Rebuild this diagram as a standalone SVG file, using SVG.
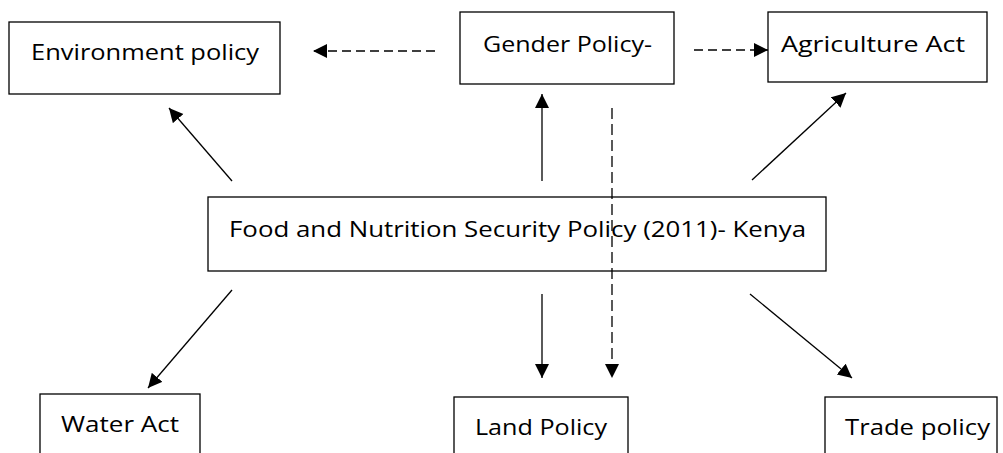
<svg xmlns="http://www.w3.org/2000/svg" width="1003" height="453" viewBox="0 0 1003 453">
<style>
.box{fill:#fff;stroke:#000;stroke-width:1.3}
.t{font-family:"Open Sans","Liberation Sans",Arial,sans-serif;font-size:21px;fill:#000}
.c{stroke:#000;stroke-width:1.3;fill:none}
.d{stroke-dasharray:9,5}
.dv{stroke-dasharray:11,5}
</style>
<defs>
<marker id="ah" markerUnits="userSpaceOnUse" markerWidth="15" markerHeight="15" refX="14" refY="7" orient="auto">
<path d="M0,0 L14,7 L0,14 Z" fill="#000"/>
</marker>
</defs>
<rect width="1003" height="453" fill="#fff"/>
<g id="env"><rect class="box" x="9" y="22" width="271" height="72"/><text class="t" x="31" y="60" textLength="228" lengthAdjust="spacingAndGlyphs">Environment policy</text></g>
<g id="gender"><rect class="box" x="460" y="12" width="214" height="72"/><text class="t" x="483" y="52" textLength="169" lengthAdjust="spacingAndGlyphs">Gender Policy-</text></g>
<g id="agri"><rect class="box" x="768" y="12" width="219" height="70"/><text class="t" x="781" y="52" textLength="184" lengthAdjust="spacingAndGlyphs">Agriculture Act</text></g>
<g id="central"><rect class="box" x="208" y="197" width="618" height="74"/><text class="t" x="229" y="237" textLength="577" lengthAdjust="spacingAndGlyphs">Food and Nutrition Security Policy (2011)- Kenya</text></g>
<g id="water"><rect class="box" x="40" y="394" width="160" height="70"/><text class="t" x="61" y="432" textLength="118" lengthAdjust="spacingAndGlyphs">Water Act</text></g>
<g id="land"><rect class="box" x="454" y="397" width="174" height="70"/><text class="t" x="475" y="435" textLength="132" lengthAdjust="spacingAndGlyphs">Land Policy</text></g>
<g id="trade"><rect class="box" x="825" y="397" width="172" height="70"/><text class="t" x="845" y="435" textLength="145" lengthAdjust="spacingAndGlyphs">Trade policy</text></g>
<g id="connectors">
<line class="c d" x1="435" y1="51" x2="313" y2="51" marker-end="url(#ah)"/>
<line class="c d" x1="694" y1="50" x2="768" y2="50" marker-end="url(#ah)"/>
<line class="c" x1="232" y1="181" x2="169" y2="108" marker-end="url(#ah)"/>
<line class="c" x1="542" y1="181" x2="542" y2="94" marker-end="url(#ah)"/>
<line class="c dv" x1="612" y1="108" x2="612" y2="378" marker-end="url(#ah)"/>
<line class="c" x1="752" y1="180" x2="846" y2="93" marker-end="url(#ah)"/>
<line class="c" x1="232" y1="290" x2="148" y2="388" marker-end="url(#ah)"/>
<line class="c" x1="542" y1="294" x2="542" y2="378" marker-end="url(#ah)"/>
<line class="c" x1="750" y1="294" x2="852" y2="378" marker-end="url(#ah)"/>
</g>
</svg>
